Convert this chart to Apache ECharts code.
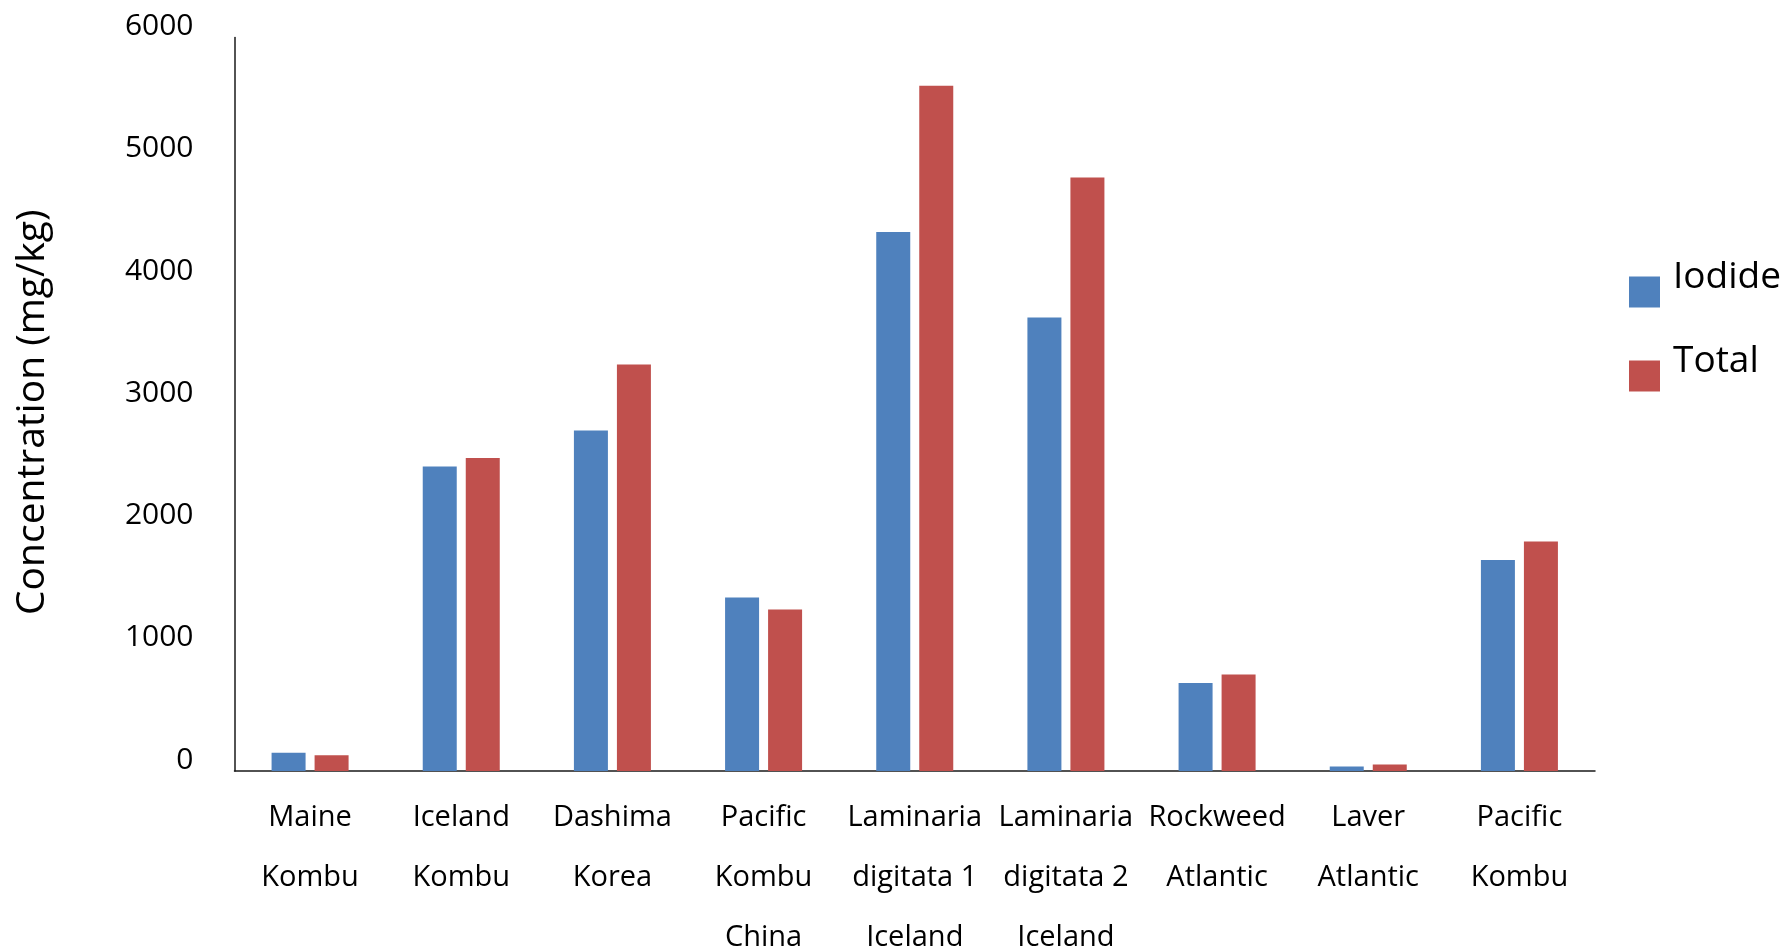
<!DOCTYPE html>
<html>
<head>
<meta charset="utf-8">
<title>Iodine concentration in seaweed</title>
<script src="https://cdn.jsdelivr.net/npm/echarts@6/dist/echarts.min.js"></script>
<style>
  html, body { margin: 0; padding: 0; background: #fff; }
  #chart { width: 1785px; height: 950px; }
</style>
</head>
<body>
<div id="chart"></div>
<script>
// Seaweed samples (category axis)
const categories = [
  'Maine\nKombu',
  'Iceland\nKombu',
  'Dashima\nKorea',
  'Pacific\nKombu\nChina',
  'Laminaria\ndigitata 1\nIceland',
  'Laminaria\ndigitata 2\nIceland',
  'Rockweed\nAtlantic',
  'Laver\nAtlantic',
  'Pacific\nKombu'
];

// Concentrations in mg/kg
const iodide = [150, 2490, 2785, 1420, 4410, 3710, 720, 37, 1725];
const total  = [128, 2560, 3325, 1322, 5605, 4855, 790, 53, 1877];

// Y axis range and step
const yMin = 0;
const yMax = 6000;
const yStep = 1000;

const FONT = '"Open Sans", "Noto Sans", sans-serif';

const chart = echarts.init(document.getElementById('chart'), null, { renderer: 'canvas' });

chart.setOption({
  animation: false,
  backgroundColor: '#ffffff',
  textStyle: { fontFamily: FONT, color: '#000' },
  grid: {
    left: 234.5,
    right: 190,
    top: 37.5,
    bottom: 179,
    containLabel: false,
    outerBoundsMode: 'none'
  },
  legend: {
    orient: 'vertical',
    left: 1629,
    top: 259,
    padding: 0,
    itemWidth: 31,
    itemHeight: 31,
    itemGap: 18,
    icon: 'rect',
    data: ['Iodide', 'Total'],
    // label sits on the first of two lines, so it rides above the swatch centre
    formatter: name => '{t|' + name + '}\n{t| }',
    textStyle: {
      fontFamily: FONT,
      fontSize: 37,
      lineHeight: 29,
      color: '#000',
      rich: {
        t: {
          fontFamily: FONT,
          fontSize: 37,
          lineHeight: 29,
          color: '#000',
          padding: [0, 0, 0, 8]
        }
      }
    }
  },
  xAxis: {
    type: 'category',
    data: categories,
    axisLine: { show: true, lineStyle: { color: '#1a1a1a', width: 1.5 } },
    axisTick: { show: false },
    axisLabel: {
      interval: 0,
      margin: 17,
      fontFamily: FONT,
      fontSize: 29,
      lineHeight: 60,
      color: '#000'
    }
  },
  yAxis: {
    type: 'value',
    min: yMin,
    max: yMax,
    interval: yStep,
    name: 'Concentration (mg/kg)',
    nameLocation: 'middle',
    nameGap: 182,
    nameTextStyle: {
      fontFamily: FONT,
      fontSize: 39,
      color: '#000',
      padding: [0, 16, 0, 0]
    },
    axisLine: { show: true, lineStyle: { color: '#1a1a1a', width: 1.5 } },
    axisTick: { show: false },
    splitLine: { show: false },
    axisLabel: {
      margin: 41,
      fontFamily: FONT,
      fontSize: 30,
      color: '#000',
      verticalAlign: 'bottom',
      lineHeight: 22,
      formatter: v => String(v)
    }
  },
  series: [
    {
      name: 'Iodide',
      type: 'bar',
      data: iodide,
      barWidth: 34,
      barGap: '26.5%',
      itemStyle: { color: '#4F81BD' }
    },
    {
      name: 'Total',
      type: 'bar',
      data: total,
      barWidth: 34,
      itemStyle: { color: '#C0504D' }
    }
  ]
});
</script>
</body>
</html>
